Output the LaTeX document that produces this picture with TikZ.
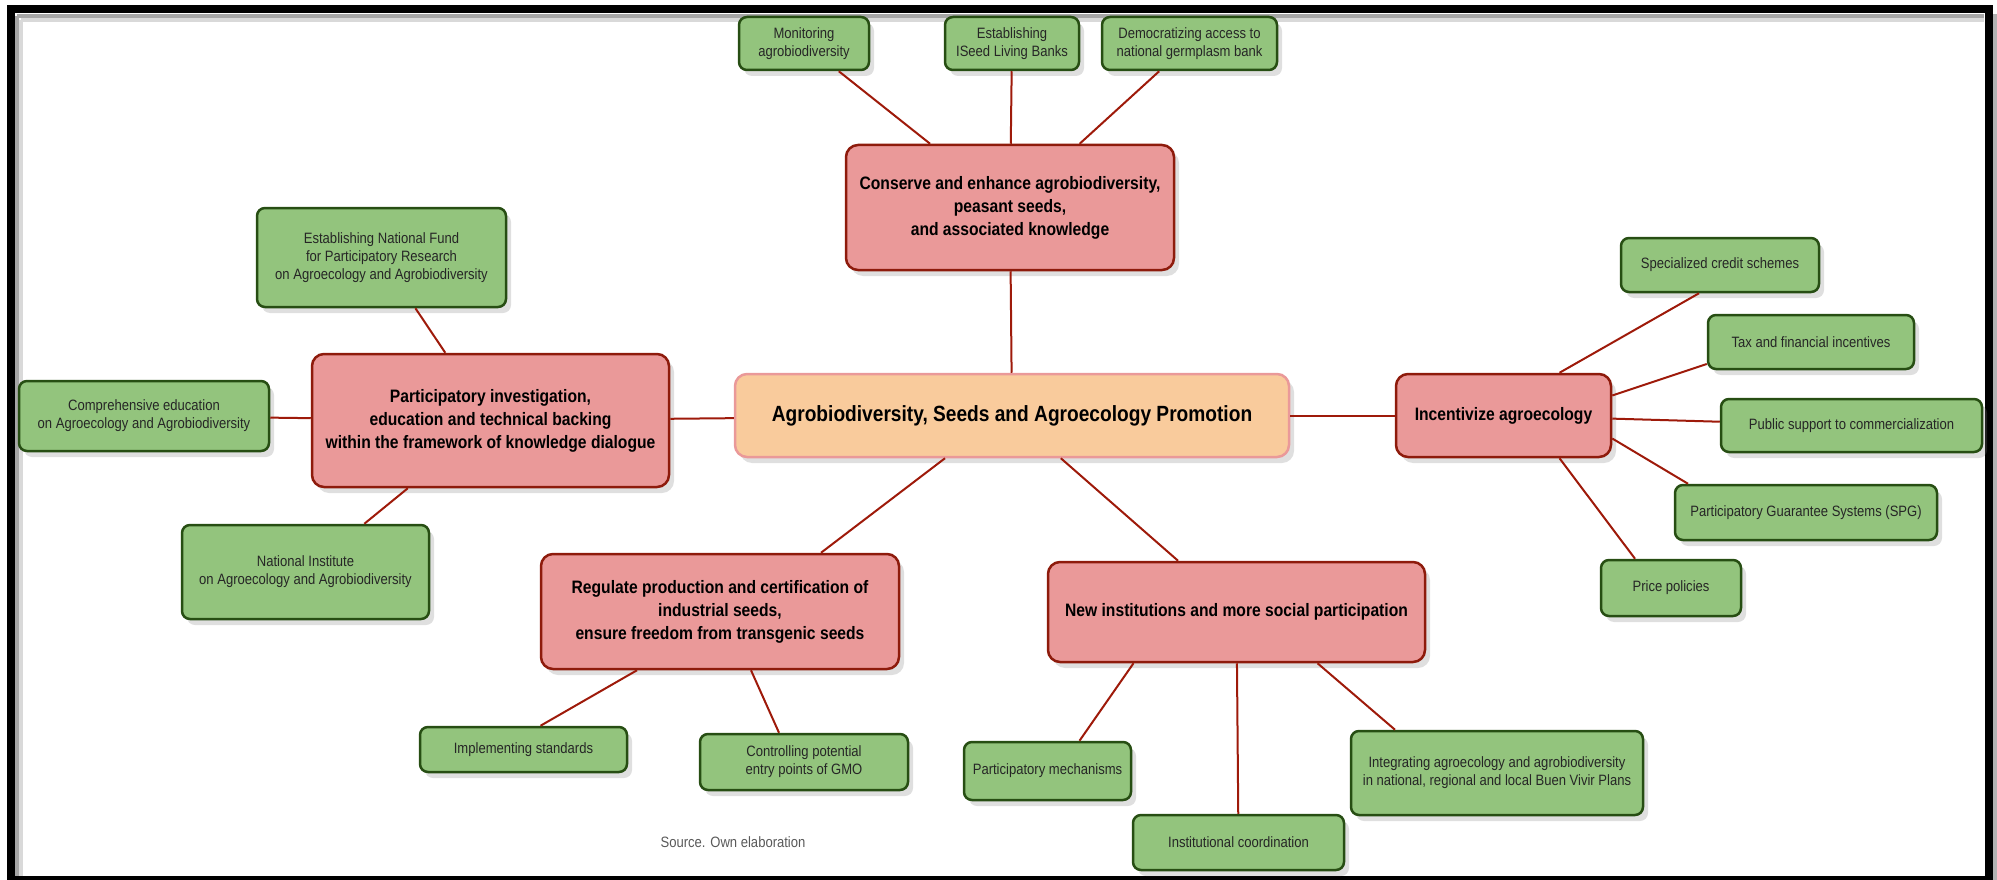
\documentclass[tikz,border=0pt]{standalone}
\usepackage{fontspec}
\setmainfont{Liberation Sans}[FakeStretch=0.87]
\usetikzlibrary{shadows}
\definecolor{leafgreen}{HTML}{93C47D}
\definecolor{leafborder}{HTML}{274E13}
\definecolor{branchred}{HTML}{EA9999}
\definecolor{branchborder}{HTML}{8E1B0C}
\definecolor{rootfill}{HTML}{F9CB9C}
\definecolor{linkred}{HTML}{9E1A0A}

\begin{document}
\begin{tikzpicture}[x=1pt,y=-1pt,
    box/.style={rectangle, align=center, inner sep=0pt, line width=2.5pt,
        drop shadow={shadow xshift=5pt, shadow yshift=-6pt, opacity=0.25}},
    leaf/.style={box, rounded corners=8pt, fill=leafgreen, draw=leafborder,
        text=black!85, font=\fontsize{15}{18}\selectfont},
    branch/.style={box, rounded corners=12pt, fill=branchred, draw=branchborder,
        font=\bfseries\fontsize{18}{23}\selectfont},
    root/.style={box, rounded corners=12pt, fill=rootfill, draw=branchred,
        font=\bfseries\fontsize{22}{26}\selectfont},
    boxsize/.style 2 args={minimum width=#1pt, minimum height=#2pt},
    link/.style={draw=linkred, line width=2pt}]
    \useasboundingbox (0,0) rectangle (1997,880);
    \draw [black!30, line width=4pt] (1995,14) -- (1995,880);
    \draw [black!15, line width=4pt] (21,20) -- (1984,20) (21,20) -- (21,876);
    \draw [black!35, line width=4pt] (17,16) -- (1984,16) (17,16) -- (17,876);
    \draw [line width=8pt] (11,9) rectangle (1988.5,880);

    \node [root, boxsize={554}{83}] (promo) at (1012,415.5) {Agrobiodiversity, Seeds and Agroecology Promotion};

    \node [branch, boxsize={328}{125}] (conserve) at (1010,207.5) {Conserve and enhance agrobiodiversity,\\peasant seeds,\\and associated knowledge};
    \node [leaf, boxsize={130}{53}] (monitor) at (804,43.5) {Monitoring\\agrobiodiversity};
    \node [leaf, boxsize={134}{53}] (banks) at (1012,43.5) {Establishing\\ISeed Living Banks};
    \node [leaf, boxsize={175}{53}] (germplasm) at (1189.5,43.5) {Democratizing access to\\national germplasm bank};

    \node [branch, boxsize={357}{133}] (research) at (490.5,420.5) {Participatory investigation,\\education and technical backing\\within the framework of knowledge dialogue};
    \node [leaf, boxsize={249}{99}] (fund) at (381.5,257.5) {Establishing National Fund\\for Participatory Research\\on Agroecology and Agrobiodiversity};
    \node [leaf, boxsize={250}{70}] (education) at (144,416) {Comprehensive education\\on Agroecology and Agrobiodiversity};
    \node [leaf, boxsize={247}{94}] (institute) at (305.5,572) {National Institute\\on Agroecology and Agrobiodiversity};

    \node [branch, boxsize={215}{83}] (incentive) at (1503.5,415.5) {Incentivize agroecology};
    \node [leaf, boxsize={198}{54}] (credit) at (1720,265) {Specialized credit schemes};
    \node [leaf, boxsize={206}{54}] (tax) at (1811,342) {Tax and financial incentives};
    \node [leaf, boxsize={261}{53}] (trade) at (1851.5,425.5) {Public support to commercialization};
    \node [leaf, boxsize={262}{55}] (spg) at (1806,512.5) {Participatory Guarantee Systems (SPG)};
    \node [leaf, boxsize={140}{56}] (price) at (1671,588) {Price policies};

    \node [branch, boxsize={358}{115}] (regulate) at (720,611.5) {Regulate production and certification of\\industrial seeds,\\ensure freedom from transgenic seeds};
    \node [leaf, boxsize={207}{45}] (standards) at (523.5,749.5) {Implementing standards};
    \node [leaf, boxsize={208}{56}] (gmo) at (804,762) {Controlling potential\\entry points of GMO};

    \node [branch, boxsize={377}{100}] (institutions) at (1236.5,612) {New institutions and more social participation};
    \node [leaf, boxsize={167}{58}] (mechanisms) at (1047.5,771) {Participatory mechanisms};
    \node [leaf, boxsize={211}{55}] (coordination) at (1238.5,842.5) {Institutional coordination};
    \node [leaf, boxsize={292}{84}] (plans) at (1497,773) {Integrating agroecology and agrobiodiversity\\in national, regional and local Buen Vivir Plans};

    \node [text=black!65, font=\fontsize{15}{18}\selectfont] (source) at (733,842) {Source. Own elaboration};

    \foreach \from/\to in {promo/conserve, conserve/monitor, conserve/banks, conserve/germplasm,
        promo/research, research/fund, research/education, research/institute,
        promo/incentive, incentive/trade, promo/institutions, institutions/coordination}
        \draw [link] (\from) -- (\to);
    \draw [link] ([xshift=-67pt]promo.south) -- ([xshift=101pt]regulate.north);
    \draw [link] ([xshift=56pt]incentive.north) -- ([xshift=-21pt]credit.south);
    \draw [link] ([yshift=20pt]incentive.east) -- ([yshift=-22pt]tax.west);
    \draw [link] ([yshift=-23pt]incentive.east) -- ([xshift=-118pt]spg.north);
    \draw [link] ([xshift=56pt]incentive.south) -- ([xshift=-36pt]price.north);
    \draw [link] ([xshift=-83pt]regulate.south) -- ([xshift=17pt]standards.north);
    \draw [link] ([xshift=31pt]regulate.south) -- ([xshift=-25pt]gmo.north);
    \draw [link] ([xshift=-103pt]institutions.south) -- ([xshift=32pt]mechanisms.north);
    \draw [link] ([xshift=81pt]institutions.south) -- ([xshift=-102pt]plans.north);
\end{tikzpicture}
\end{document}
